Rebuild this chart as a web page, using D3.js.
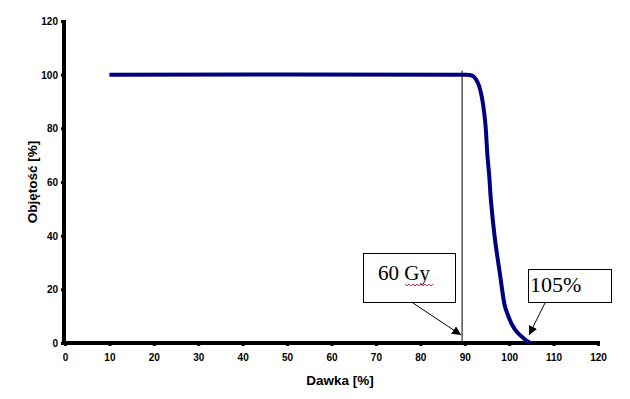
<!DOCTYPE html>
<html><head><meta charset="utf-8">
<script src="https://cdn.jsdelivr.net/npm/d3@7"></script>
<style>body{margin:0;background:#fff}svg{display:block}</style>
</head><body>
<script>
const doseValues = [10, 90, 91, 92, 93, 93.8, 94.6, 95.1, 95.5, 95.9, 96.8, 97.9, 99, 99.7, 100.6, 101.8, 103.3, 104.7];
const volumeValues = [100, 100, 99.9, 99.3, 96.8, 92, 82.5, 70, 62.6, 53, 38.7, 26, 14, 10.5, 7, 4, 1.7, 0];
const xTicks = [0,10,20,30,40,50,60,70,80,90,100,110,120];
const yTicks = [0,20,40,60,80,100,120];
const markerDose = 89.4;
const labels = ["60 Gy", "105%"];
const xTitle = "Dawka [%]";
const yTitle = "Objętość [%]";

const W = 630, H = 399;
const svg = d3.select("body").append("svg").attr("width", W).attr("height", H);
const x = d3.scaleLinear().domain([0,120]).range([65, 598]);
const y = d3.scaleLinear().domain([0,120]).range([343, 21]);

const defs = svg.append("defs");
defs.append("marker").attr("id","ah").attr("viewBox","0 0 10 10").attr("refX",10).attr("refY",5)
  .attr("markerWidth",9).attr("markerHeight",9).attr("orient","auto").attr("markerUnits","userSpaceOnUse")
  .append("path").attr("d","M0,0L10,5L0,10z").attr("fill","#000");

// axes
const xa = svg.append("g").attr("transform",`translate(0,${y(0)})`)
  .call(d3.axisBottom(x).tickValues(xTicks).tickSize(3).tickPadding(8));
const ya = svg.append("g").attr("transform",`translate(${x(0)-1},0)`)
  .call(d3.axisLeft(y).tickValues(yTicks).tickSize(3).tickPadding(3));
[xa, ya].forEach(a => {
  a.select(".domain").attr("stroke","#000").attr("stroke-width",4);
  a.selectAll(".tick line").attr("stroke","#000").attr("stroke-width",3);
  a.selectAll(".tick text").attr("font-family","Liberation Sans, Arial, sans-serif")
    .attr("font-size",10).attr("font-weight","bold").attr("fill","#000");
});
xa.select(".domain").attr("d",`M${x(0)-2},0H${x(120)+2}`);
ya.select(".domain").attr("d",`M0,${y(120)-1}V${y(0)+2}`);
ya.selectAll(".tick text").attr("dy","0.35em");

// titles
svg.append("text").attr("x",340).attr("y",385).attr("text-anchor","middle")
  .attr("font-family","Liberation Sans, Arial, sans-serif").attr("font-weight","bold").attr("font-size",13.5).text(xTitle);
svg.append("text").attr("transform",`translate(37,${y(60)}) rotate(-90)`).attr("text-anchor","middle")
  .attr("font-family","Liberation Sans, Arial, sans-serif").attr("font-weight","bold").attr("font-size",13.5).text(yTitle);

// marker vertical line
svg.append("line").attr("x1",x(markerDose)).attr("x2",x(markerDose)).attr("y1",y(100)-4).attr("y2",y(0))
  .attr("stroke","#000").attr("stroke-width",1);

// curve
const pts = doseValues.map((d,i)=>[d, volumeValues[i]]);
svg.append("path").datum(pts)
  .attr("d", d3.line().x(d=>x(d[0])).y(d=>y(d[1])).curve(d3.curveCatmullRom.alpha(0.5)))
  .attr("fill","none").attr("stroke","#000080").attr("stroke-width",4).attr("stroke-linejoin","round");

// callouts
function box(x0,y0,w,h){
  svg.append("rect").attr("x",x0+0.5).attr("y",y0+0.5).attr("width",w).attr("height",h)
    .attr("fill","#fff").attr("stroke","#000").attr("stroke-width",1);
}
box(363,253,92,49);
svg.append("text").attr("x",378).attr("y",280).attr("font-family","Liberation Serif, Times New Roman, serif")
  .attr("font-size",21).attr("fill","#000").text(labels[0]);
let wz = "M405,284";
for (let i = 1; i <= 14; i++) wz += `L${405 + i*2},${i % 2 ? 286 : 284}`;
svg.append("path").attr("d", wz).attr("stroke","#d00").attr("stroke-width",0.8).attr("fill","none");
svg.append("line").attr("x1",413).attr("y1",303).attr("x2",x(markerDose)-1).attr("y2",y(0)-8)
  .attr("stroke","#000").attr("stroke-width",1).attr("marker-end","url(#ah)");

box(528,269,83,33);
svg.append("text").attr("x",530).attr("y",292).attr("font-family","Liberation Serif, Times New Roman, serif")
  .attr("font-size",22).attr("fill","#000").text(labels[1]);
svg.append("line").attr("x1",545).attr("y1",303).attr("x2",529).attr("y2",y(0)-8)
  .attr("stroke","#000").attr("stroke-width",1).attr("marker-end","url(#ah)");
</script>
</body></html>
